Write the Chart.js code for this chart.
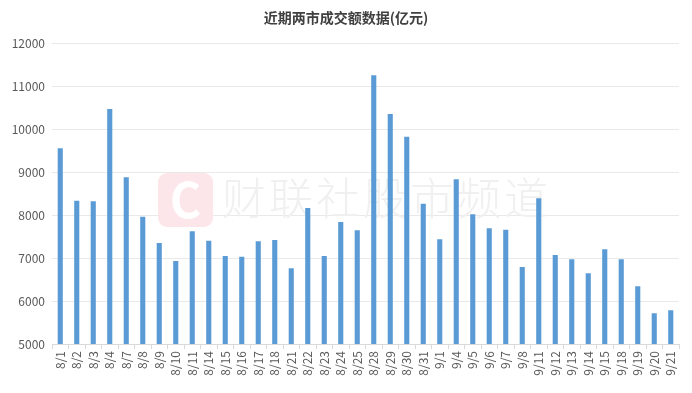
<!DOCTYPE html>
<html>
<head>
<meta charset="utf-8">
<script src="https://cdn.jsdelivr.net/npm/chart.js@4/dist/chart.umd.min.js"></script>
<style>
  html, body { margin: 0; padding: 0; background: #fff; }
  #wrap { width: 692px; height: 393px; position: relative; }
</style>
</head>
<body>
<div id="wrap"><canvas id="chart"></canvas></div>
<script>
// 日期
const dates = ['8/1', '8/2', '8/3', '8/4', '8/7', '8/8', '8/9', '8/10', '8/11', '8/14',
  '8/15', '8/16', '8/17', '8/18', '8/21', '8/22', '8/23', '8/24', '8/25', '8/28',
  '8/29', '8/30', '8/31', '9/1', '9/4', '9/5', '9/6', '9/7', '9/8', '9/11',
  '9/12', '9/13', '9/14', '9/15', '9/18', '9/19', '9/20', '9/21'];

// 成交额(亿元)
const turnover = [9550, 8333, 8318, 10465, 8876, 7961, 7349, 6930, 7620, 7403,
  7047, 7030, 7388, 7419, 6760, 8163, 7047, 7837, 7643, 11248,
  10349, 9822, 8263, 7434, 8829, 8016, 7690, 7659, 6791, 8388,
  7070, 6969, 6643, 7202, 6969, 6341, 5713, 5783];

const yTicks = [5000, 6000, 7000, 8000, 9000, 10000, 11000, 12000];

const titleText = '近期两市成交额数据(亿元)';
const watermarkText = '财联社股市频道';

const FONT = '"Noto Sans CJK SC", "Noto Sans", sans-serif';

// 水印 + 标题
const decorPlugin = {
  id: 'decor',
  beforeDatasetsDraw(chart) {
    const ctx = chart.ctx;
    ctx.save();
    // 红色C图标
    ctx.fillStyle = '#fce6e9';
    ctx.beginPath();
    ctx.roundRect(158, 173, 55, 54, 9);
    ctx.fill();
    ctx.fillStyle = '#ffffff';
    ctx.font = 'bold 48px ' + FONT;
    ctx.textAlign = 'center';
    ctx.textBaseline = 'middle';
    ctx.fillText('C', 185.5, 200);
    // 文字
    ctx.fillStyle = '#f0f0f0';
    ctx.font = '300 44px ' + FONT;
    ctx.letterSpacing = '3px';
    ctx.textAlign = 'left';
    ctx.fillText(watermarkText, 222, 198);
    ctx.restore();
  },
  afterDraw(chart) {
    const ctx = chart.ctx;
    ctx.save();
    ctx.fillStyle = '#404040';
    ctx.font = 'bold 14px ' + FONT;
    ctx.textAlign = 'center';
    ctx.textBaseline = 'middle';
    ctx.fillText(titleText, 346, 18);
    ctx.restore();
  }
};

new Chart(document.getElementById('chart'), {
  type: 'bar',
  data: {
    labels: dates,
    datasets: [{
      data: turnover,
      backgroundColor: '#5b9bd5',
      borderWidth: 0,
      barPercentage: 0.31,
      categoryPercentage: 1
    }]
  },
  options: {
    responsive: true,
    maintainAspectRatio: false,
    animation: false,
    layout: { padding: { top: 43, right: 13, left: 0, bottom: 0 } },
    plugins: {
      legend: { display: false },
      tooltip: { enabled: false }
    },
    scales: {
      x: {
        offset: true,
        grid: {
          offset: true,
          drawOnChartArea: false,
          drawTicks: true,
          tickLength: 5,
          color: '#d9d9d9'
        },
        border: { color: '#d9d9d9' },
        ticks: {
          color: '#595959',
          font: { family: FONT, size: 12 },
          minRotation: 90,
          maxRotation: 90,
          autoSkip: false,
          padding: 2
        },
        afterFit(scale) { scale.height = 49; }
      },
      y: {
        min: 5000,
        max: 12000,
        afterBuildTicks(scale) { scale.ticks = yTicks.map(v => ({ value: v })); },
        grid: { color: '#e9e9e9', drawTicks: false },
        border: { display: false },
        ticks: {
          color: '#595959',
          font: { family: FONT, size: 12 },
          padding: 7,
          callback: v => String(v)
        },
        afterFit(scale) { scale.width = 52; }
      }
    }
  },
  plugins: [decorPlugin]
});
</script>
</body>
</html>
